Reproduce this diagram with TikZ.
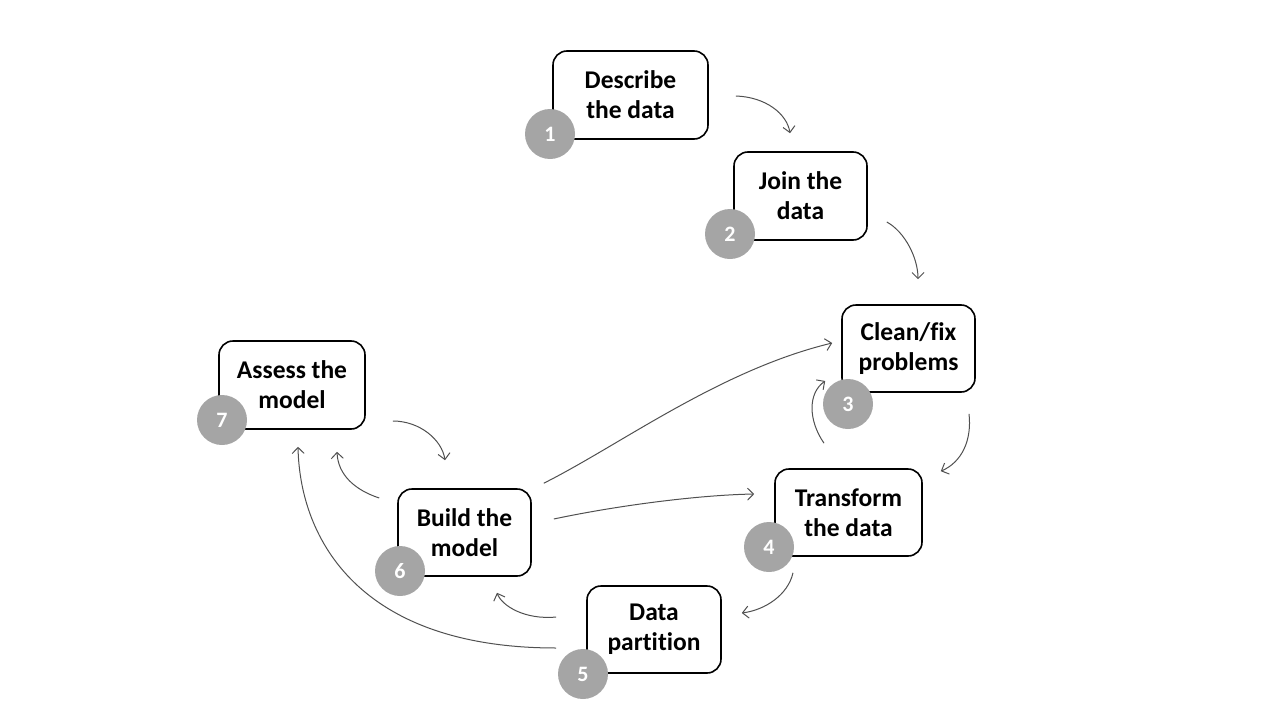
\documentclass[tikz,border=0pt]{standalone}
\usepackage{fontspec}
\setmainfont[Ligatures={NoCommon}]{Carlito}
\usetikzlibrary{arrows.meta,calc}
\definecolor{numgray}{HTML}{A5A5A5}
\definecolor{linegray}{HTML}{505050}
\tikzset{
  stepbox/.style={draw=black, line width=1.6pt, rounded corners=14pt, fill=white,
    align=center, font=\fontsize{25.5}{30}\selectfont\bfseries, inner sep=0pt},
  numdot/.style={circle, fill=numgray, minimum size=50pt, inner sep=0pt,
    text=white, font=\fontsize{22}{22}\selectfont\bfseries},
  conn/.style={draw=linegray, line width=1pt, -{Straight Barb[length=6pt,width=12pt]}}
}
\begin{document}
\begin{tikzpicture}[x=1pt,y=-1pt]
\useasboundingbox (0,0) rectangle (1280,720);
% boxes
\node[stepbox, minimum width=155pt, minimum height=88pt] (b1) at (630.5,95) {Describe\\the data};
\node[stepbox, minimum width=133pt, minimum height=88pt] (b2) at (800.5,196) {Join the\\data};
\node[stepbox, minimum width=133pt, minimum height=87pt] (b3) at (908.5,348.5) {Clean/fix\\problems};
\node[stepbox, minimum width=147pt, minimum height=87pt] (b4) at (848.5,512.5) {Transform\\the data};
\node[stepbox, minimum width=134pt, minimum height=87pt] (b5) at (654,629.5) {Data\\partition};
\node[stepbox, minimum width=133pt, minimum height=87pt] (b6) at (464.5,532.5) {Build the\\model};
\node[stepbox, minimum width=146pt, minimum height=88pt] (b7) at (292,385) {Assess the\\model};
% number dots
\node[numdot] (n1) at (550,134) {1};
\node[numdot] (n2) at (730,234) {2};
\node[numdot] (n3) at (848,404) {3};
\node[numdot] (n4) at (769,547) {4};
\node[numdot] (n5) at (583,674) {5};
\node[numdot] (n6) at (400,571) {6};
\node[numdot] (n7) at (222,420) {7};
% connectors
\draw[conn] ($(b1.east)+(27,1)$) .. controls (766,97) and (787,114) .. ($(b2.north)+(-10.5,-18)$);
\draw[conn] ($(b2.east)+(19,26)$) .. controls (905,232) and (918,258) .. ($(b3.north)+(9.5,-25)$);
\draw[conn] ($(b3.south)+(60.5,21)$) .. controls (972,440) and (962,462) .. ($(b4.north east)+(18,3)$);
\draw[conn] ($(b4.south)+(-55.5,16)$) .. controls (788,595) and (765,610) .. ($(b5.east)+(20,-16.5)$);
\draw[conn] ($(b5.west)+(-30,-12.5)$) .. controls (525,620) and (502,606) .. ($(b6.south)+(32.5,16)$);
\draw[conn] ($(b6.west)+(-18,-34.5)$) .. controls (355,490) and (338,475) .. ($(b7.south)+(45,22)$);
\draw[conn] ($(b7.east)+(27,36)$) .. controls (420,421) and (442,440) .. ($(b6.north)+(-19.5,-28)$);
\draw[conn] ($(b5.west)+(-30,18.5)$) .. controls (360,648) and (300,540) .. ($(b7.south)+(6,17)$);
\draw[conn] ($(b6.north east)+(12,-5)$) .. controls (620,445) and (720,370) .. ($(b3.west)+(-9,-5.5)$);
\draw[conn] ($(b6.east)+(22,-13.5)$) .. controls (620,505) and (700,495) .. ($(b4.west)+(-20,-18.5)$);
\draw[conn] ($(b4.north)+(-24.5,-25)$) .. controls (808,420) and (808,393) .. ($(b3.west)+(-16,32.5)$);
\end{tikzpicture}
\end{document}
